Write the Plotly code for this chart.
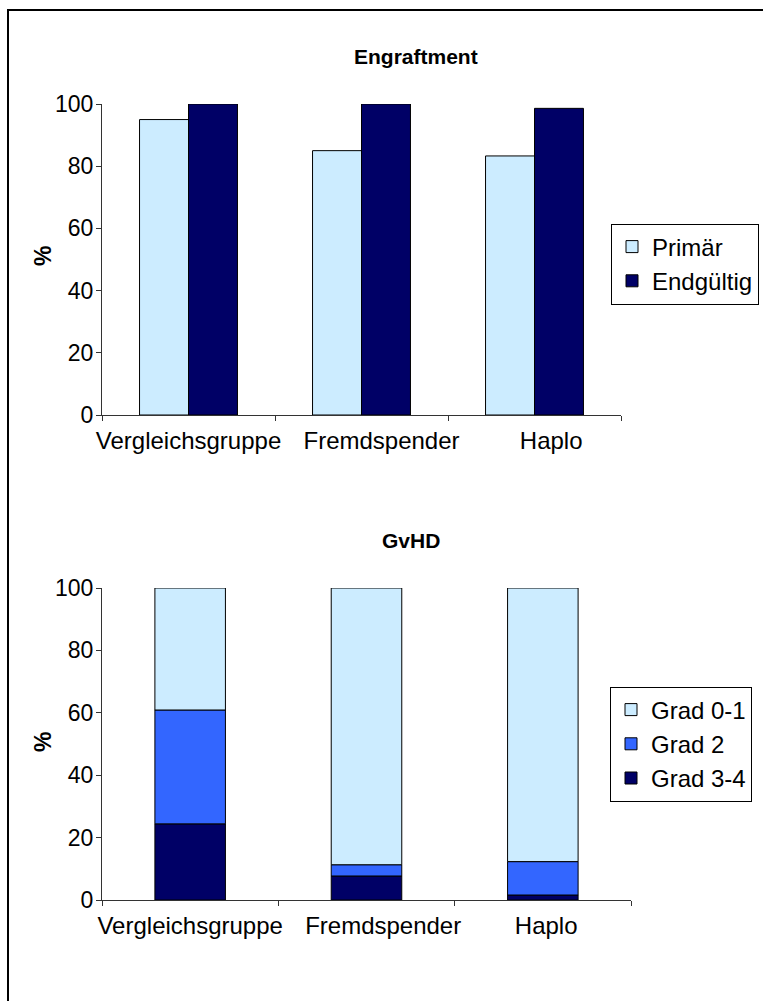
import plotly.graph_objects as go
import numpy as np

categories = ["Vergleichsgruppe", "Fremdspender", "Haplo"]
NB = "\u00a0"
# tick texts (leading no-break spaces nudge labels as in the original layout)
top_ticktext = ["Vergleichsgruppe", NB * 6 + "Fremdspender", NB * 5 + "Haplo"]
bot_ticktext = ["Vergleichsgruppe", NB * 5 + "Fremdspender", NB * 1 + "Haplo"]

# Engraftment (%)
primaer = [95.0, 85.0, 83.3]
endgueltig = [100.0, 100.0, 98.6]

# GvHD (%)
grad_34 = [24.4, 7.7, 1.6]
grad_2 = [36.5, 3.6, 10.7]
grad_01 = [39.1, 88.7, 87.7]

y_ticks = [0, 20, 40, 60, 80, 100]

W, H = 763, 1001
FONT = "Liberation Sans, Arial, sans-serif"
C_LIGHT = "#CCECFF"
C_NAVY = "#000066"
C_BLUE = "#3366FF"

def px_x(p):
    return p / W

def px_y(p):
    return 1 - p / H

fig = go.Figure()

bw_top = 0.283
fig.add_trace(go.Bar(x=categories, y=primaer, name="Primär", marker=dict(color=C_LIGHT, line=dict(color="#000000", width=1)),
                     width=bw_top, offset=-bw_top, xaxis="x", yaxis="y", legend="legend"))
fig.add_trace(go.Bar(x=categories, y=endgueltig, name="Endgültig", marker=dict(color=C_NAVY, line=dict(color="#000000", width=1)),
                     width=bw_top, offset=0, xaxis="x", yaxis="y", legend="legend"))

bw_bot = 0.40
stack = [grad_34, grad_2, grad_01]
names = ["Grad 3-4", "Grad 2", "Grad 0-1"]
colors = [C_NAVY, C_BLUE, C_LIGHT]
base = np.zeros(len(categories))
for vals, nm, col in zip(stack, names, colors):
    fig.add_trace(go.Bar(x=categories, y=vals, base=base.tolist(), name=nm,
                         marker=dict(color=col, line=dict(color="#000000", width=1)),
                         width=bw_bot, offset=-bw_bot / 2, xaxis="x2", yaxis="y2", legend="legend2"))
    base = base + np.array(vals)

axis_common = dict(showline=True, linecolor="#333333", linewidth=1, ticks="outside", ticklen=5,
                   tickcolor="#333333", showgrid=False, zeroline=False, automargin=False)

xaxis_extra = dict(type="category", range=[-0.5, 2.5], tickson="boundaries", tickangle=0, ticklabelstandoff=4,
                   tickmode="array", tickvals=categories, tickfont=dict(family=FONT, size=24, color="#000000"))
yaxis_extra = dict(range=[0, 100], tickvals=y_ticks, ticklabelstandoff=-2,
                   tickfont=dict(family=FONT, size=23, color="#000000"))

fig.update_layout(
    template="none",
    width=W, height=H,
    margin=dict(l=0, r=0, t=0, b=0, autoexpand=False),
    paper_bgcolor="white", plot_bgcolor="white",
    barmode="overlay",
    showlegend=True,
    font=dict(family=FONT, size=23, color="#000000"),
    xaxis=dict(domain=[px_x(102), px_x(621)], anchor="y", ticktext=top_ticktext, **xaxis_extra, **axis_common),
    yaxis=dict(domain=[px_y(415), px_y(104)], anchor="x", **yaxis_extra, **axis_common),
    xaxis2=dict(domain=[px_x(102), px_x(631)], anchor="y2", ticktext=bot_ticktext, **xaxis_extra, **axis_common),
    yaxis2=dict(domain=[px_y(900), px_y(588)], anchor="x2", **yaxis_extra, **axis_common),
    legend=dict(x=px_x(759), xanchor="right", y=px_y(264), yanchor="middle", bordercolor="#000000", borderwidth=1,
                bgcolor="white", font=dict(family=FONT, size=24), itemwidth=30, tracegroupgap=0),
    legend2=dict(x=px_x(752), xanchor="right", y=px_y(744), yanchor="middle", bordercolor="#000000", borderwidth=1,
                 bgcolor="white", font=dict(family=FONT, size=24), itemwidth=30, traceorder="reversed"),
    annotations=[
        dict(text="<b>Engraftment</b>", x=px_x(416), y=px_y(57), xref="paper", yref="paper", showarrow=False,
             xanchor="center", yanchor="middle", font=dict(family=FONT, size=21)),
        dict(text="<b>GvHD</b>", x=px_x(411), y=px_y(540), xref="paper", yref="paper", showarrow=False,
             xanchor="center", yanchor="middle", font=dict(family=FONT, size=21)),
        dict(text="<b>%</b>", x=px_x(43), y=px_y(256), xref="paper", yref="paper", showarrow=False,
             textangle=-90, xanchor="center", yanchor="middle", font=dict(family=FONT, size=23)),
        dict(text="<b>%</b>", x=px_x(43), y=px_y(742), xref="paper", yref="paper", showarrow=False,
             textangle=-90, xanchor="center", yanchor="middle", font=dict(family=FONT, size=23)),
    ],
    shapes=[
        dict(type="rect", xref="paper", yref="paper", x0=px_x(8), x1=1.02, y0=-0.02, y1=px_y(10),
             line=dict(color="#000000", width=2), fillcolor="rgba(0,0,0,0)", layer="below"),
    ],
)

fig.write_html("out.html", config={"displayModeBar": False},
               post_script="document.body.style.margin='0';document.body.style.overflow='hidden';")
